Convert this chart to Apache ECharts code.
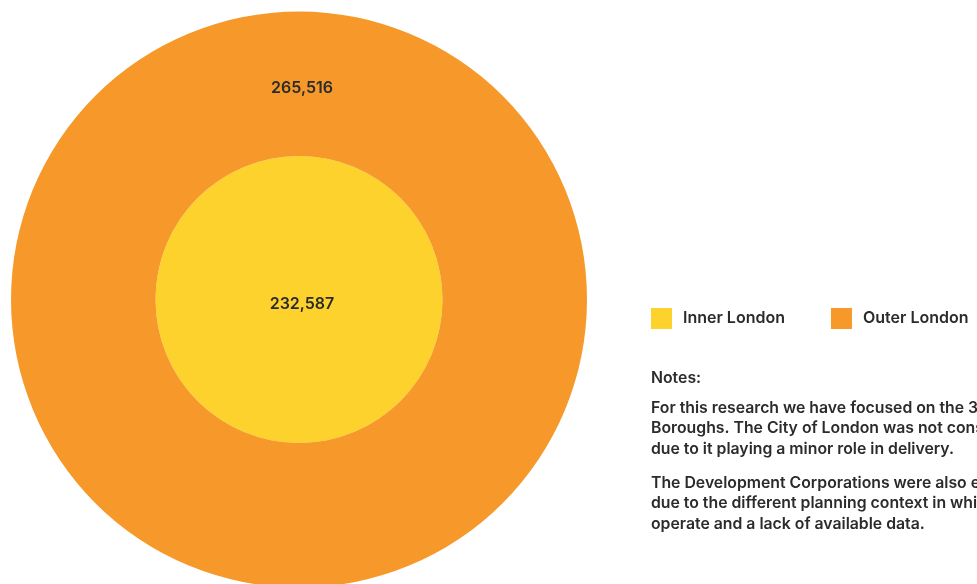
<!DOCTYPE html>
<html>
<head>
<meta charset="utf-8">
<script src="https://cdn.jsdelivr.net/npm/echarts@6/dist/echarts.min.js"></script>
<style>
  html, body { margin: 0; padding: 0; background: #ffffff; }
  #chart { width: 977px; height: 584px; }
</style>
</head>
<body>
<div id="chart"></div>
<script>
// Housing totals by sub-region
const regionNames = ['Inner London', 'Outer London'];
const regionValues = [232587, 265516];
const regionColors = ['#FDD22C', '#F6992A'];

const notesTitle = 'Notes:';
const notesParagraphs = [
  [
    'For this research we have focused on the 32 London',
    'Boroughs. The City of London was not considered',
    'due to it playing a minor role in delivery.'
  ],
  [
    'The Development Corporations were also excluded',
    'due to the different planning context in which they',
    'operate and a lack of available data.'
  ]
];

const FONT = 'Inter, "Open Sans", sans-serif';
const TEXT_COLOR = '#2b2b2b';

const fmt = v => v.toLocaleString('en-GB');

// Notes block: title then paragraphs, one text element per line
const noteElements = [];
noteElements.push({
  type: 'text', x: 651, y: 378,
  style: { text: notesTitle, font: '600 15.8px ' + FONT, fill: TEXT_COLOR, verticalAlign: 'middle' }
});
let y = 408;
notesParagraphs.forEach(lines => {
  lines.forEach(line => {
    noteElements.push({
      type: 'text', x: 651, y: y,
      style: { text: line, font: '600 15.8px ' + FONT, fill: TEXT_COLOR, verticalAlign: 'middle' }
    });
    y += 20.6;
  });
  y += 13;
});

const chart = echarts.init(document.getElementById('chart'), null, { renderer: 'canvas' });
chart.setOption({
  animation: false,
  backgroundColor: '#ffffff',
  legend: {
    left: 651,
    top: 308,
    padding: 0,
    icon: 'rect',
    itemWidth: 21,
    itemHeight: 21,
    itemGap: 46,
    data: regionNames,
    textStyle: {
      fontFamily: FONT,
      fontSize: 16,
      fontWeight: 600,
      color: TEXT_COLOR,
      padding: [5, 0, 0, 6]
    }
  },
  graphic: noteElements,
  series: [
    {
      name: regionNames[0],
      type: 'pie',
      center: [299, 299.5],
      radius: [0, 143.5],
      silent: true,
      label: {
        show: true,
        position: 'center',
        formatter: p => fmt(p.value),
        fontFamily: FONT,
        fontSize: 16,
        fontWeight: 600,
        color: TEXT_COLOR,
        offset: [3, 5]
      },
      labelLine: { show: false },
      itemStyle: { color: regionColors[0] },
      data: [{ name: regionNames[0], value: regionValues[0] }]
    },
    {
      name: regionNames[1],
      type: 'pie',
      center: [299, 299.5],
      radius: [143.5, 288],
      startAngle: 270,
      silent: true,
      label: {
        show: true,
        position: 'inside',
        formatter: p => fmt(p.value),
        fontFamily: FONT,
        fontSize: 16,
        fontWeight: 600,
        color: TEXT_COLOR,
        offset: [3, 7]
      },
      labelLine: { show: false },
      itemStyle: { color: regionColors[1] },
      data: [{ name: regionNames[1], value: regionValues[1] }]
    }
  ]
});
</script>
</body>
</html>
